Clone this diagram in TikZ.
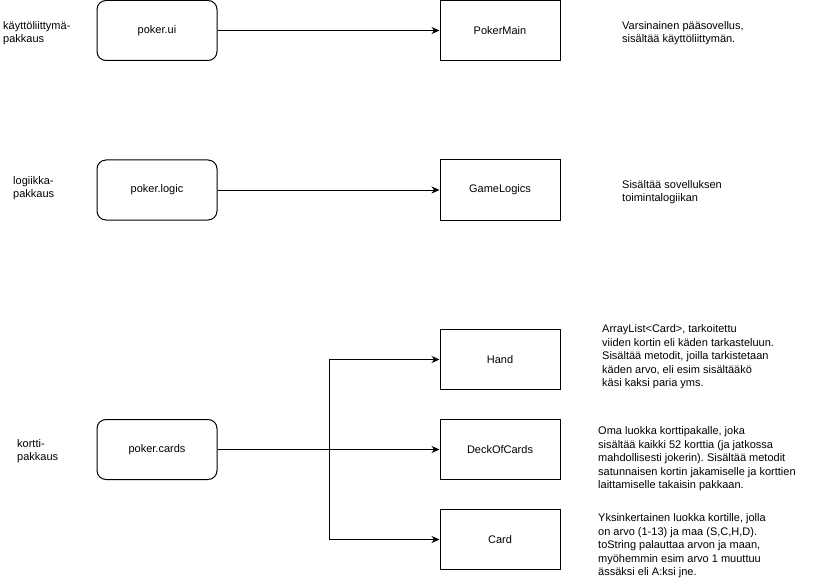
\documentclass[tikz,border=0pt]{standalone}
\usepackage{fontspec}
\setmainfont{Liberation Sans}
\usetikzlibrary{arrows.meta}
\frenchspacing
\tikzset{
  pkg/.style={draw, line width=1pt, rounded corners=9pt, minimum width=120pt, minimum height=60pt, inner sep=0pt},
  cls/.style={draw, line width=1pt, minimum width=120pt, minimum height=60pt, inner sep=0pt},
  note/.style={align=left, anchor=west, inner sep=0pt},
  dep/.style={line width=1pt, -{Stealth[length=8pt,width=7pt]}}
}
\begin{document}
\begin{tikzpicture}[x=1pt,y=-1pt,font=\fontsize{11}{13.5}\selectfont]
\useasboundingbox (0,0) rectangle (826,580);

% pakkaukset
\node[note] (uilabel) at (3,33) {käyttöliittymä-\\pakkaus};
\node[note] (logiclabel) at (13,188) {logiikka-\\pakkaus};
\node[note] (cardslabel) at (17,451) {kortti-\\pakkaus};

\node[pkg] (ui) at (157,30.5) {poker.ui};
\node[pkg] (logic) at (157,190) {poker.logic};
\node[pkg] (cards) at (157,449.5) {poker.cards};

% luokat
\node[cls] (main) at (500,30.5) {PokerMain};
\node[cls] (game) at (500,190) {GameLogics};
\node[cls] (hand) at (500,359.5) {Hand};
\node[cls] (deck) at (500,449.5) {DeckOfCards};
\node[cls] (card) at (500,539.5) {Card};

\coordinate (split) at (329,449.5);

\draw[dep] (ui) -- (main);
\draw[dep] (logic) -- (game);
\draw[dep] (cards) -- (deck);
\draw[dep] (split) |- (hand);
\draw[dep] (split) |- (card);

% kuvaukset
\node[note] (maintxt) at (622,33) {Varsinainen pääsovellus,\\sisältää käyttöliittymän.};
\node[note] (gametxt) at (622,192) {Sisältää sovelluksen\\toimintalogiikan};
\node[note] (handtxt) at (602,357) {ArrayList<Card>, tarkoitettu\\viiden kortin eli käden tarkasteluun.\\Sisältää metodit, joilla tarkistetaan\\käden arvo, eli esim sisältääkö\\käsi kaksi paria yms.};
\node[note] (decktxt) at (598,459) {Oma luokka korttipakalle, joka\\sisältää kaikki 52 korttia (ja jatkossa\\mahdollisesti jokerin). Sisältää metodit\\satunnaisen kortin jakamiselle ja korttien\\laittamiselle takaisin pakkaan.};
\node[note] (cardtxt) at (598,546) {Yksinkertainen luokka kortille, jolla\\on arvo (1-13) ja maa (S,C,H,D).\\toString palauttaa arvon ja maan,\\myöhemmin esim arvo 1 muuttuu\\ässäksi eli A:ksi jne.};
\end{tikzpicture}
\end{document}
